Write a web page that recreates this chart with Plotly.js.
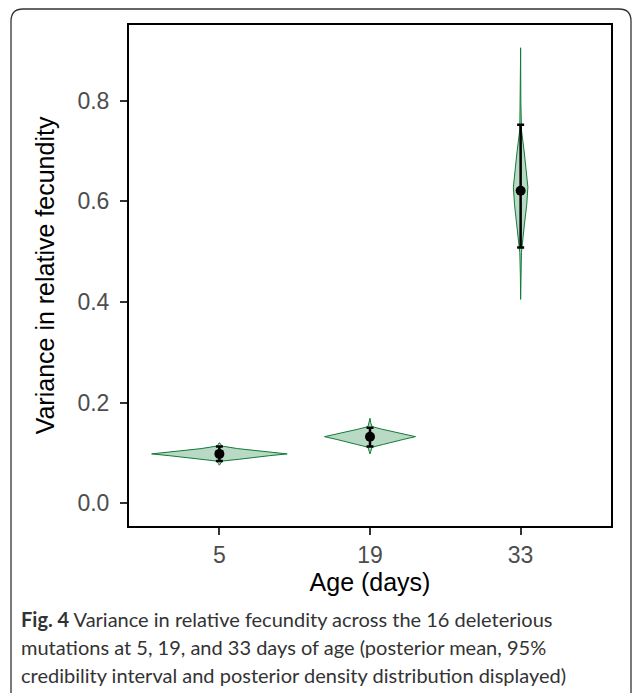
<!DOCTYPE html>
<html>
<head>
<meta charset="utf-8">
<script src="https://cdn.plot.ly/plotly-3.0.1.min.js"></script>
<style>html,body{margin:0;padding:0;background:#fff;}#chart{width:634px;height:693px;}</style>
</head>
<body>
<div id="chart"></div>
<script>
// ---- data ----
const ages = ['5', '19', '33'];
const means = [0.098, 0.132, 0.621];
const lower95 = [0.084, 0.1125, 0.508];
const upper95 = [0.1125, 0.150, 0.752];

// posterior density profiles (value, relative density)
const y5  = [0.0755, 0.079, 0.0838, 0.0875, 0.091, 0.0945, 0.098, 0.1015, 0.105, 0.1085, 0.1135, 0.117, 0.1204];
const d5  = [0, 0.015, 0.04, 0.30, 0.50, 0.74, 1.0, 0.74, 0.49, 0.27, 0.04, 0.015, 0];
const y19 = [0.098, 0.103, 0.1113, 0.117, 0.122, 0.127, 0.1323, 0.137, 0.1425, 0.147, 0.1522, 0.160, 0.1689];
const d19 = [0, 0.01, 0.03, 0.20, 0.33, 0.50, 0.671, 0.50, 0.33, 0.18, 0.03, 0.01, 0];
const y33 = [0.405, 0.454, 0.498, 0.553, 0.593, 0.628, 0.662, 0.696, 0.742, 0.801, 0.905];
const d33 = [0, 0.004, 0.012, 0.055, 0.09, 0.107, 0.085, 0.055, 0.012, 0.003, 0];

const profiles = [[y5, d5], [y19, d19], [y33, d33]];
const maxD = Math.max(...d5, ...d19, ...d33);
const halfWidth = 0.45;

const traces = [];
profiles.forEach(([ys, ds], i) => {
  const xs = [], yy = [];
  ys.forEach((v, k) => { xs.push(i + halfWidth * ds[k] / maxD); yy.push(v); });
  for (let k = ys.length - 1; k >= 0; k--) { xs.push(i - halfWidth * ds[k] / maxD); yy.push(ys[k]); }
  xs.push(xs[0]); yy.push(yy[0]);
  traces.push({
    type: 'scatter', mode: 'lines', x: xs, y: yy, fill: 'toself',
    fillcolor: 'rgba(20,130,60,0.30)',
    line: {color: '#127a38', width: 1},
    hoverinfo: 'skip', showlegend: false
  });
});

traces.push({
  type: 'scatter', mode: 'markers',
  x: ages.map((a, i) => i), y: means,
  marker: {color: '#000', size: 10},
  error_y: {
    type: 'data', symmetric: false,
    array: upper95.map((u, i) => u - means[i]),
    arrayminus: lower95.map((l, i) => means[i] - l),
    color: '#000', thickness: 2.5, width: 3.5
  },
  showlegend: false
});

// ---- layout ----
const L = 129, R = 611, T = 25, B = 526;
const W = 634, H = 693;
const px = x => (x - L) / (R - L);
const py = y => (B - y) / (B - T);

function roundRect(x0, y0, x1, y1, r) {
  const p = (x, y) => px(x) + ',' + py(y);
  return 'M' + p(x0 + r, y0) + ' L' + p(x1 - r, y0) + ' Q' + p(x1, y0) + ' ' + p(x1, y0 + r) +
    ' L' + p(x1, y1 - r) + ' Q' + p(x1, y1) + ' ' + p(x1 - r, y1) +
    ' L' + p(x0 + r, y1) + ' Q' + p(x0, y1) + ' ' + p(x0, y1 - r) +
    ' L' + p(x0, y0 + r) + ' Q' + p(x0, y0) + ' ' + p(x0 + r, y0) + ' Z';
}

const capFont = {family: 'Lato, "Noto Sans", sans-serif', size: 20, color: '#333'};
const capLines = [
  '<b>Fig. 4</b> Variance in relative fecundity across the 16 deleterious',
  'mutations at 5, 19, and 33 days of age (posterior mean, 95%',
  'credibility interval and posterior density distribution displayed)'
];
const capY = [619, 647, 675];

const layout = {
  width: W, height: H,
  margin: {l: L, r: W - R, t: T, b: H - B, pad: 0},
  paper_bgcolor: '#fff', plot_bgcolor: '#fff',
  showlegend: false,
  xaxis: {
    range: [-0.6, 2.6], tickvals: [0, 1, 2], ticktext: ages,
    showgrid: false, zeroline: false,
    showline: true, mirror: true, linecolor: '#000', linewidth: 2,
    ticks: 'outside', ticklen: 7, tickwidth: 2, tickcolor: '#333',
    tickfont: {family: '"Liberation Sans", Arial, sans-serif', size: 23, color: '#4d4d4d'},
    title: {text: 'Age (days)', font: {family: '"Liberation Sans", Arial, sans-serif', size: 25, color: '#000'}, standoff: 1}
  },
  yaxis: {
    range: [-0.04525, 0.95025], tickvals: [0, 0.2, 0.4, 0.6, 0.8], ticktext: ['0.0', '0.2', '0.4', '0.6', '0.8'],
    showgrid: false, zeroline: false,
    showline: true, mirror: true, linecolor: '#000', linewidth: 2,
    ticks: 'outside', ticklen: 7, tickwidth: 2, tickcolor: '#333',
    ticklabelstandoff: 6,
    tickfont: {family: '"Liberation Sans", Arial, sans-serif', size: 23, color: '#4d4d4d'},
    title: {text: 'Variance in relative fecundity', font: {family: '"Liberation Sans", Arial, sans-serif', size: 25, color: '#000'}, standoff: 16}
  },
  shapes: [{
    type: 'path', xref: 'paper', yref: 'paper', layer: 'below',
    path: roundRect(11, 9, 631, 705, 12),
    line: {color: '#333', width: 1.3}, fillcolor: 'rgba(0,0,0,0)'
  }],
  annotations: capLines.map((t, i) => ({
    xref: 'paper', yref: 'paper', x: px(19), y: py(capY[i]),
    xanchor: 'left', yanchor: 'middle', showarrow: false, align: 'left',
    text: t, font: capFont
  }))
};

Plotly.newPlot('chart', traces, layout, {displayModeBar: false, staticPlot: true});
</script>
</body>
</html>
